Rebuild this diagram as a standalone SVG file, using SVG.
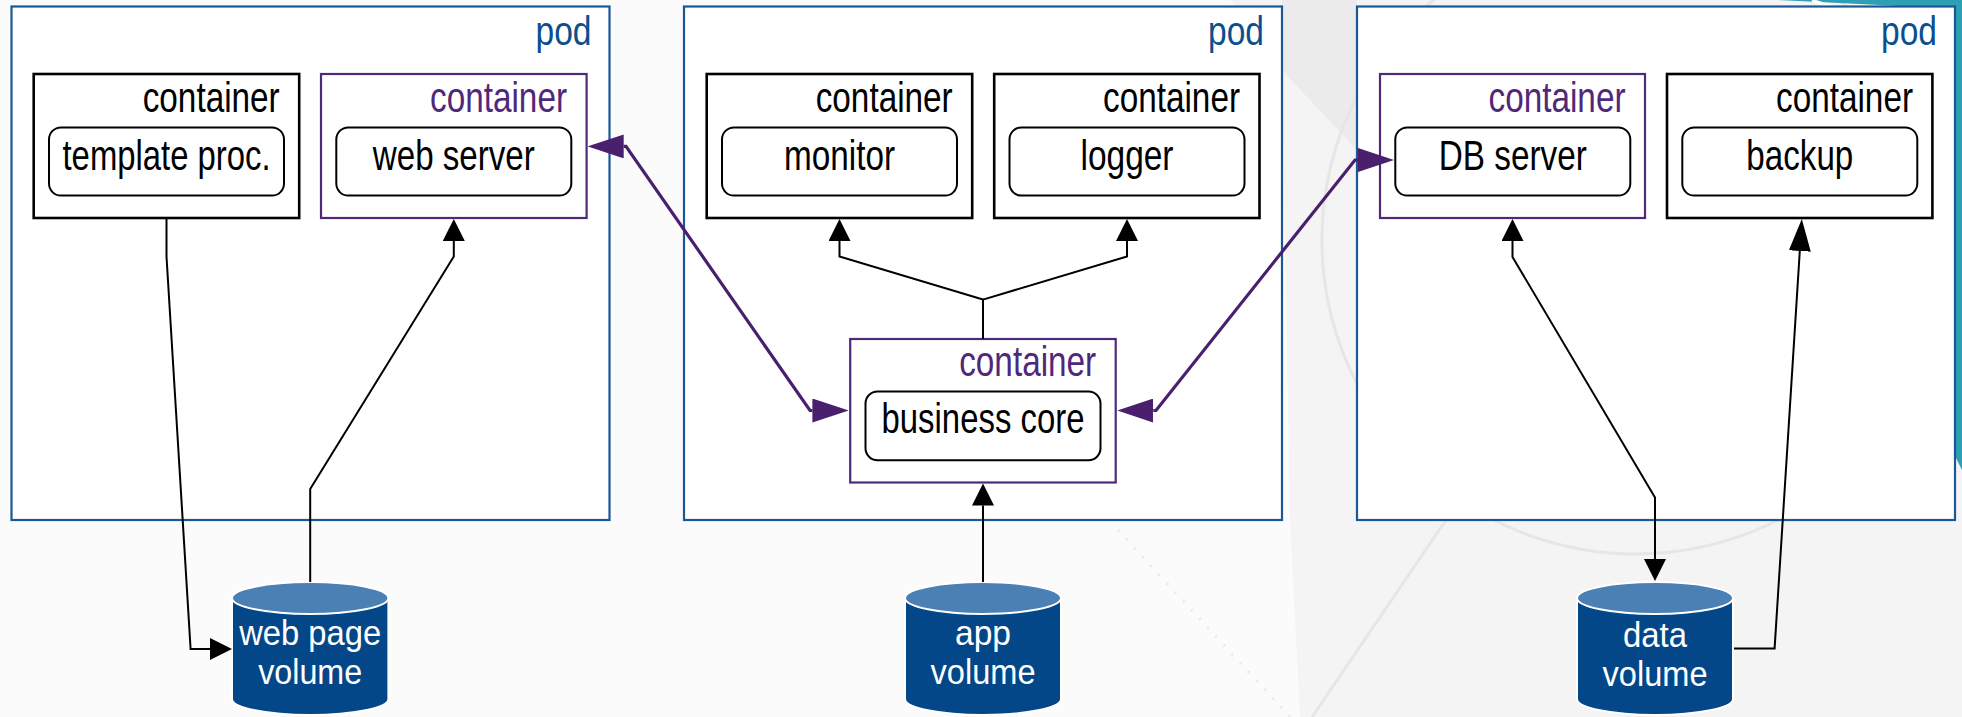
<svg xmlns="http://www.w3.org/2000/svg" width="1962" height="717" viewBox="0 0 1962 717">
  <defs>
    <style>
      .lbl { font-family: "Liberation Sans Narrow", "Liberation Sans", Arial, sans-serif; }
      .pod { fill: #ffffff; stroke: #1b5697; stroke-width: 2.2; }
      .pod-t { fill: #0b4f8f; font-size: 41px; text-anchor: end; }
      .box { fill: #ffffff; stroke: #000000; stroke-width: 2.6; }
      .box-p { fill: #ffffff; stroke: #50287a; stroke-width: 2.2; }
      .box-t { fill: #000000; font-size: 42px; text-anchor: end; }
      .box-tp { fill: #50287a; font-size: 42px; text-anchor: end; }
      .proc { fill: #ffffff; stroke: #000000; stroke-width: 2; }
      .proc-t { fill: #000000; font-size: 43px; text-anchor: middle; }
      .vol-body { fill: #034789; stroke: #ffffff; stroke-width: 2; }
      .vol-top { fill: #4b80b5; stroke: #ffffff; stroke-width: 2; }
      .vol-t { fill: #ffffff; font-size: 35px; text-anchor: middle; }
      .link { fill: none; stroke: #000000; stroke-width: 2; }
      .link-p { fill: none; stroke: #4a1f6e; stroke-width: 3.2; }
      .bg-line { fill: none; stroke: #e6e6e6; stroke-width: 3; }
    </style>
    <marker id="arr" markerUnits="userSpaceOnUse" markerWidth="22" markerHeight="22" viewBox="0 0 22 22" refX="0" refY="11" orient="auto-start-reverse">
      <path d="M0,0 L22,11 L0,22 Z" fill="#000000"/>
    </marker>
    <marker id="arr-long" markerUnits="userSpaceOnUse" markerWidth="32" markerHeight="22" viewBox="0 0 32 22" refX="0" refY="11" orient="auto-start-reverse">
      <path d="M0,0 L32,11 L0,22 Z" fill="#000000"/>
    </marker>
    <marker id="arr-p" markerUnits="userSpaceOnUse" markerWidth="36" markerHeight="24" viewBox="0 0 36 24" refX="0" refY="12" orient="auto-start-reverse">
      <path d="M0,0 L36,12 L0,24 Z" fill="#4a1f6e"/>
    </marker>
  </defs>

  <!-- backdrop -->
  <g id="backdrop">
    <rect x="0" y="0" width="1962" height="717" fill="#fbfbfb"/>
    <path d="M1230,0 H1962 V717 H1300 L1290,520 L1282,60 Z" fill="#f4f4f4"/>
    <path d="M1282,0 H1357 V150 L1282,70 Z" fill="#ebebeb"/>
    <circle cx="1636" cy="240" r="314" class="bg-line"/>
    <path d="M1312,717 L1446,520" class="bg-line" stroke-width="2"/>
    <path d="M1118,530 L1290,717" fill="none" stroke="#e9e9e9" stroke-width="3" stroke-dasharray="2 10"/>
    <path d="M1778,0 H1962 V470 L1952,450 V28 L1900,6 Z" fill="#2f9fb4"/>
    <path d="M1812,0 Q1822,4 1832,6" fill="none" stroke="#ffffff" stroke-width="3"/>
  </g>

  <!-- pods -->
  <g id="pod-web">
    <rect class="pod" x="11.5" y="6.5" width="598" height="513.5"/>
    <text class="lbl pod-t" x="591.5" y="45" textLength="56" lengthAdjust="spacingAndGlyphs">pod</text>
  </g>
  <g id="pod-app">
    <rect class="pod" x="684" y="6.5" width="598" height="513.5"/>
    <text class="lbl pod-t" x="1264" y="45" textLength="56" lengthAdjust="spacingAndGlyphs">pod</text>
  </g>
  <g id="pod-db">
    <rect class="pod" x="1357" y="6.5" width="598" height="513.5"/>
    <text class="lbl pod-t" x="1937" y="45" textLength="56" lengthAdjust="spacingAndGlyphs">pod</text>
  </g>

  <!-- containers -->
  <g id="container-template">
    <rect class="box" x="33.7" y="74" width="265.5" height="144"/>
    <text class="lbl box-t" x="279.7" y="112" textLength="137" lengthAdjust="spacingAndGlyphs">container</text>
    <rect class="proc" x="49" y="127.4" width="235" height="68.2" rx="12"/>
    <text class="lbl proc-t" x="166.5" y="170" textLength="208" lengthAdjust="spacingAndGlyphs">template proc.</text>
  </g>
  <g id="container-web">
    <rect class="box-p" x="321" y="74" width="265.6" height="144"/>
    <text class="lbl box-tp" x="567" y="112" textLength="137" lengthAdjust="spacingAndGlyphs">container</text>
    <rect class="proc" x="336.3" y="127.4" width="235" height="68.2" rx="12"/>
    <text class="lbl proc-t" x="453.8" y="170" textLength="162" lengthAdjust="spacingAndGlyphs">web server</text>
  </g>
  <g id="container-monitor">
    <rect class="box" x="706.7" y="74" width="265.5" height="144"/>
    <text class="lbl box-t" x="952.7" y="112" textLength="137" lengthAdjust="spacingAndGlyphs">container</text>
    <rect class="proc" x="722" y="127.4" width="235" height="68.2" rx="12"/>
    <text class="lbl proc-t" x="839.5" y="170" textLength="111" lengthAdjust="spacingAndGlyphs">monitor</text>
  </g>
  <g id="container-logger">
    <rect class="box" x="994.2" y="74" width="265.3" height="144"/>
    <text class="lbl box-t" x="1240" y="112" textLength="137" lengthAdjust="spacingAndGlyphs">container</text>
    <rect class="proc" x="1009.5" y="127.4" width="235" height="68.2" rx="12"/>
    <text class="lbl proc-t" x="1127" y="170" textLength="93" lengthAdjust="spacingAndGlyphs">logger</text>
  </g>
  <g id="container-business">
    <rect class="box-p" x="850.2" y="339" width="265.5" height="143.5"/>
    <text class="lbl box-tp" x="1096.2" y="376" textLength="137" lengthAdjust="spacingAndGlyphs">container</text>
    <rect class="proc" x="865.5" y="391.5" width="235" height="68.8" rx="12"/>
    <text class="lbl proc-t" x="983" y="433" textLength="203" lengthAdjust="spacingAndGlyphs">business core</text>
  </g>
  <g id="container-db">
    <rect class="box-p" x="1380" y="74" width="265" height="144"/>
    <text class="lbl box-tp" x="1625.5" y="112" textLength="137" lengthAdjust="spacingAndGlyphs">container</text>
    <rect class="proc" x="1395.3" y="127.4" width="235" height="68.2" rx="12"/>
    <text class="lbl proc-t" x="1512.8" y="170" textLength="148" lengthAdjust="spacingAndGlyphs">DB server</text>
  </g>
  <g id="container-backup">
    <rect class="box" x="1667" y="74" width="265.4" height="144"/>
    <text class="lbl box-t" x="1913" y="112" textLength="137" lengthAdjust="spacingAndGlyphs">container</text>
    <rect class="proc" x="1682.3" y="127.4" width="235" height="68.2" rx="12"/>
    <text class="lbl proc-t" x="1799.8" y="170" textLength="107" lengthAdjust="spacingAndGlyphs">backup</text>
  </g>

  <!-- volumes -->
  <g id="volume-webpage">
    <path class="vol-body" d="M232,598 V699 A78,16 0 0 0 388.4,699 V598 Z"/>
    <ellipse class="vol-top" cx="310.2" cy="598" rx="78.2" ry="16"/>
    <text class="lbl vol-t" x="310.2" y="645" textLength="142" lengthAdjust="spacingAndGlyphs">web page</text>
    <text class="lbl vol-t" x="310.2" y="684" textLength="104" lengthAdjust="spacingAndGlyphs">volume</text>
  </g>
  <g id="volume-app">
    <path class="vol-body" d="M905,598 V699 A78,16 0 0 0 1061,699 V598 Z"/>
    <ellipse class="vol-top" cx="983" cy="598" rx="78" ry="16"/>
    <text class="lbl vol-t" x="983" y="645" textLength="56" lengthAdjust="spacingAndGlyphs">app</text>
    <text class="lbl vol-t" x="983" y="684" textLength="105" lengthAdjust="spacingAndGlyphs">volume</text>
  </g>
  <g id="volume-data">
    <path class="vol-body" d="M1577,598 V699 A78,16 0 0 0 1733,699 V598 Z"/>
    <ellipse class="vol-top" cx="1655" cy="598" rx="78" ry="16"/>
    <text class="lbl vol-t" x="1655" y="647" textLength="64" lengthAdjust="spacingAndGlyphs">data</text>
    <text class="lbl vol-t" x="1655" y="686" textLength="105" lengthAdjust="spacingAndGlyphs">volume</text>
  </g>

  <!-- connectors -->
  <g id="connectors">
    <path class="link" d="M166.5,218 V256.5 L190.6,649 H210" marker-end="url(#arr)"/>
    <path class="link" d="M310.2,582 V489 L453.8,256.5 V241" marker-end="url(#arr)"/>
    <path class="link" d="M983,339 V299.6 L839.5,256.5 V241" marker-end="url(#arr)"/>
    <path class="link" d="M983,299.6 L1127,256.5 V241" marker-end="url(#arr)"/>
    <path class="link" d="M983,582 V505.5" marker-end="url(#arr)"/>
    <path class="link" d="M1512.5,241 V257 L1655,497.5 V559" marker-start="url(#arr)" marker-end="url(#arr)"/>
    <path class="link" d="M1734,648.4 H1774.6 L1799.8,251" marker-end="url(#arr-long)"/>
    <path class="link-p" d="M623.7,146.4 L626,146.4 L810,410.5 L812.4,410.5" marker-start="url(#arr-p)" marker-end="url(#arr-p)"/>
    <path class="link-p" d="M1153.3,410.5 L1156,410.5 L1355,160 L1358,160" marker-start="url(#arr-p)" marker-end="url(#arr-p)"/>
  </g>
</svg>
